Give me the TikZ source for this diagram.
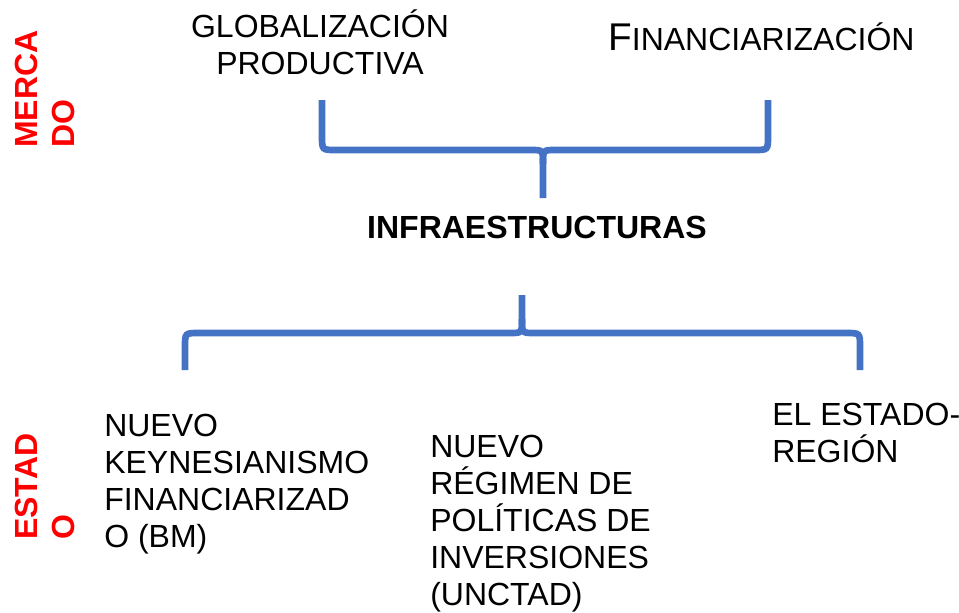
\documentclass[tikz,border=0pt]{standalone}
\usepackage{fontspec}
\setmainfont{Liberation Sans}
\definecolor{bracecol}{HTML}{4472C4}
\definecolor{sidered}{HTML}{FF0000}
\tikzset{
  brace/.style={draw=bracecol, line width=5pt, line cap=butt},
  itemtext/.style={inner sep=0pt, align=left, anchor=base west,
    font=\fontsize{24}{27.75}\selectfont},
  sidetext/.style={itemtext, rotate=90, text=sidered,
    font=\fontsize{24}{27.75}\selectfont\bfseries},
}
\begin{document}
\begin{tikzpicture}[x=0.75pt,y=-0.75pt]
  \useasboundingbox (0,0) rectangle (959,612);

  % side labels (anchored at the last line)
  \node[sidetext] (mercado) at (74,148) {MERCA\\DO};
  \node[sidetext] (estado) at (74,540) {ESTAD\\O};

  % top row
  \node[itemtext, align=center, anchor=base] (glob) at (320,74)
    {GLOBALIZACIÓN\\PRODUCTIVA};
  \node[itemtext] (finan) at (608,50)
    {{\fontsize{29}{30}\selectfont F}INANCIARIZACIÓN};

  % upper brace
  \coordinate (ul) at (322,100);
  \coordinate (ur) at (768,100);
  \coordinate (um) at (543,198);
  \draw[brace] (ul) -- (322,136) .. controls (322,150) .. (336,150)
    -- (531,150) .. controls (543,150) .. (543,164) -- (um);
  \draw[brace] (543,164) .. controls (543,150) .. (555,150)
    -- (754,150) .. controls (768,150) .. (768,136) -- (ur);

  \node[itemtext, anchor=base, font=\fontsize{24}{27.75}\selectfont\bfseries]
    (infra) at (537,238) {INFRAESTRUCTURAS};

  % lower brace
  \coordinate (lm) at (522,295);
  \coordinate (ll) at (185,370);
  \coordinate (lr) at (860,370);
  \draw[brace] (ll) -- (185,347) .. controls (185,333) .. (199,333)
    -- (510,333) .. controls (522,333) .. (522,319) -- (lm);
  \draw[brace] (522,319) .. controls (522,333) .. (534,333)
    -- (846,333) .. controls (860,333) .. (860,347) -- (lr);

  % bottom row (anchored at the last line)
  \node[itemtext] (keynes) at (104,547)
    {NUEVO\\KEYNESIANISMO\\FINANCIARIZAD\\O (BM)};
  \node[itemtext] (regimen) at (430,605)
    {NUEVO\\RÉGIMEN DE\\POLÍTICAS DE\\INVERSIONES\\(UNCTAD)};
  \node[itemtext] (region) at (772,462) {EL ESTADO-\\REGIÓN};
\end{tikzpicture}
\end{document}
